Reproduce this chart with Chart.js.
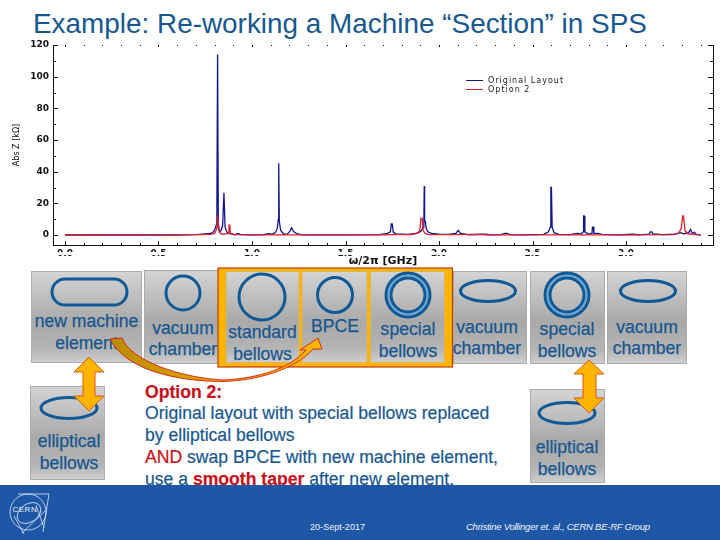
<!DOCTYPE html>
<html>
<head>
<meta charset="utf-8">
<script src="https://cdn.jsdelivr.net/npm/chart.js@4"></script>
<style>
  html, body { margin: 0; padding: 0; background: #fff; }
  #slide { position: relative; width: 720px; height: 540px; overflow: hidden; }
  #art { position: absolute; left: 0; top: 0; }
  #plot { position: absolute; left: 0; top: 40px; filter: blur(0.3px); }
  text { font-family: "Liberation Sans", Arial, sans-serif; }
  .lbl { font-size: 17.6px; fill: #17578f; stroke: #17578f; stroke-width: 0.25; text-anchor: middle; }
  .opt { font-size: 17.6px; fill: #17578f; stroke: #17578f; stroke-width: 0.2; }
  .opt .red, .opt.red { fill: #c8101a; stroke: #c8101a; }
  .pipe { fill: none; stroke: #0f5a96; stroke-width: 3; }
  .gap { fill: none; stroke: #6fa8d6; stroke-width: 2; }
  .arrow { fill: #ffb400; stroke: #dc5a10; stroke-width: 1; }
  .logo { fill: none; stroke: #dfe8f5; stroke-width: 0.8; }
</style>
</head>
<body>
<div id="slide">
<svg id="art" width="720" height="540" viewBox="0 0 720 540">
  <defs>
    <linearGradient id="metal" x1="0" y1="0" x2="0" y2="1">
      <stop offset="0" stop-color="#d4d4d4"/>
      <stop offset="0.55" stop-color="#a9a9a9"/>
      <stop offset="0.85" stop-color="#b4b4b4"/>
      <stop offset="1" stop-color="#cfcfcf"/>
    </linearGradient>
    <linearGradient id="sweep" x1="0" y1="0" x2="1" y2="0">
      <stop offset="0" stop-color="#b98a00"/>
      <stop offset="0.6" stop-color="#f0a800"/>
      <stop offset="1" stop-color="#ffb400"/>
    </linearGradient>
  </defs>

  <text x="33" y="33" font-size="27.9" fill="#17578f">Example: Re-working a Machine “Section” in SPS</text>

  <g fill="url(#metal)" stroke="#ababab" stroke-width="1">
    <rect x="31.5" y="271.5" width="110" height="91"/>
    <rect x="144.5" y="270.5" width="76" height="93"/>
    <rect x="453.5" y="271.5" width="73" height="92"/>
    <rect x="530.5" y="271.5" width="74" height="92"/>
    <rect x="607.5" y="271.5" width="79" height="92"/>
    <rect x="30.5" y="386.5" width="74" height="93"/>
    <rect x="530.5" y="389.5" width="74" height="93"/>
  </g>
  <rect x="218" y="268" width="234.5" height="99" fill="#ffb400" stroke="#c23a10" stroke-width="1.2"/>
  <g fill="url(#metal)" stroke="#dcb45a" stroke-width="1">
    <rect x="226" y="271.5" width="73" height="91"/>
    <rect x="302" y="271.5" width="65" height="91"/>
    <rect x="370.5" y="271.5" width="74" height="91"/>
  </g>

  <rect class="pipe" x="52" y="279" width="75" height="26" rx="13"/>
  <circle class="pipe" cx="183" cy="293" r="17"/>
  <circle class="pipe" cx="262" cy="297" r="23"/>
  <circle class="pipe" cx="335" cy="295" r="17.5"/>
  <circle class="gap" cx="408" cy="295" r="19.5"/>
  <circle class="pipe" cx="408" cy="295" r="22"/>
  <circle class="pipe" cx="408" cy="295" r="17"/>
  <ellipse class="pipe" cx="488" cy="291" rx="27.5" ry="10.5"/>
  <circle class="gap" cx="567" cy="295" r="19.5"/>
  <circle class="pipe" cx="567" cy="295" r="22"/>
  <circle class="pipe" cx="567" cy="295" r="17"/>
  <ellipse class="pipe" cx="648" cy="291" rx="27.5" ry="10.5"/>
  <ellipse class="pipe" cx="69" cy="408" rx="28" ry="10.5"/>
  <ellipse class="pipe" cx="567" cy="413" rx="28" ry="10.5"/>

  <text class="lbl" x="86.5" y="327">new machine</text>
  <text class="lbl" x="86.5" y="349">element</text>
  <text class="lbl" x="183" y="334">vacuum</text>
  <text class="lbl" x="183" y="355">chamber</text>
  <text class="lbl" x="262.5" y="338">standard</text>
  <text class="lbl" x="262.5" y="360">bellows</text>
  <text class="lbl" x="335" y="332">BPCE</text>
  <text class="lbl" x="408" y="335">special</text>
  <text class="lbl" x="408" y="357">bellows</text>
  <text class="lbl" x="487" y="333">vacuum</text>
  <text class="lbl" x="487" y="354">chamber</text>
  <text class="lbl" x="567" y="335">special</text>
  <text class="lbl" x="567" y="357">bellows</text>
  <text class="lbl" x="647" y="333">vacuum</text>
  <text class="lbl" x="647" y="354">chamber</text>
  <text class="lbl" x="69" y="447">elliptical</text>
  <text class="lbl" x="69" y="469">bellows</text>
  <text class="lbl" x="567" y="453">elliptical</text>
  <text class="lbl" x="567" y="475">bellows</text>

  <path d="M110,339 L122,338 C130,360 180,378 224,380 C260,378 290,368 306,350 L300,350 L318,338 L322,349 L313,349 C295,370 255,381 222,381.5 C170,381 125,368 110,339 Z"
        fill="url(#sweep)" stroke="#d0200f" stroke-width="0.9"/>
  <polygon class="arrow" points="89,357 104,372 95,372 95,396 104,396 89,411 74,396 83,396 83,372 74,372"/>
  <polygon class="arrow" points="589,360 604,374 596,374 596,398 604,398 589,413 574,398 583,398 583,374 574,374"/>

  <text class="opt red" x="145" y="398" font-weight="bold">Option 2:</text>
  <text class="opt" x="145" y="419">Original layout with special bellows replaced</text>
  <text class="opt" x="145" y="441">by elliptical bellows</text>
  <text class="opt" x="145" y="463"><tspan class="red">AND</tspan> swap BPCE with new machine element,</text>
  <text class="opt" x="145" y="485">use a <tspan class="red" font-weight="bold">smooth taper</tspan> after new element.</text>

  <rect x="0" y="485" width="720" height="55" fill="#1f57a7"/>
  <circle class="logo" cx="28" cy="512" r="18"/>
  <ellipse class="logo" cx="29" cy="513" rx="13" ry="9" transform="rotate(-35 29 513)"/>
  <path class="logo" d="M18,494 L49,494 L43,532 M36,505 L44,528 M14,516 L24,534 M22,533 L45,511"/>
  <text x="12.5" y="512" font-size="8" letter-spacing="0.5" fill="#eef3fa">CERN</text>
  <text x="310" y="530" font-size="9" textLength="55" fill="#f2f5fa">20-Sept-2017</text>
  <text x="466" y="530" font-size="9.5" font-style="italic" textLength="184" fill="#f2f5fa">Christine Vollinger et. al., CERN BE-RF Group</text>
</svg>
<canvas id="plot" width="720" height="228"></canvas>
</div>

<script>
'use strict'

// values, x in GHz, y in kOhm
var originalFreq = [0.00, 0.60, 0.70, 0.75, 0.78, 0.795, 0.805, 0.812, 0.816, 0.82, 0.826, 0.835, 0.843, 0.85, 0.856, 0.865, 0.875, 0.89, 0.91, 0.925, 0.94,
  1.00, 1.06, 1.09, 1.11, 1.125, 1.135, 1.141, 1.143, 1.146, 1.153, 1.17, 1.19, 1.203, 1.212, 1.222, 1.24, 1.26, 1.30, 1.50,
  1.68, 1.72, 1.74, 1.745, 1.75, 1.755, 1.77, 1.80, 1.83, 1.87, 1.89, 1.905, 1.915, 1.919, 1.921, 1.923, 1.927, 1.932, 1.94, 1.96,
  2.00, 2.05, 2.09, 2.103, 2.115, 2.14, 2.16, 2.25, 2.28, 2.33, 2.358, 2.38, 2.45, 2.56, 2.585, 2.595, 2.598, 2.601, 2.605, 2.615, 2.64,
  2.70, 2.74, 2.76, 2.77, 2.773, 2.776, 2.78, 2.80, 2.818, 2.82, 2.825, 2.828, 2.85, 2.87, 2.95,
  3.04, 3.07, 3.125, 3.13, 3.138, 3.145, 3.17, 3.19, 3.26, 3.29, 3.31, 3.335, 3.345, 3.352, 3.36, 3.365, 3.375, 3.40]
var originalZ = [0, 0, 0.2, 0.7, 1, 2.2, 4.5, 8, 114, 7, 2, 3, 6, 26.7, 5, 2, 1, 0.7, 0.3, 1, 0.2,
  0.1, 0.3, 0.9, 0.5, 1.5, 4, 10, 45.3, 9, 3, 0.5, 0.7, 2.5, 4.6, 2.2, 0.8, 0.3, 0.1, 0.1,
  0.2, 0.8, 2, 7, 7, 2, 0.5, 0.5, 0.4, 0.8, 1.5, 2.5, 5, 8, 31, 9, 8.5, 4, 2, 1,
  0.6, 0.4, 1, 3, 1, 0.5, 0.1, 0.5, 0.1, 0.3, 1.2, 0.3, 0.1, 0.4, 2, 5, 30, 30, 5, 1.5, 0.4,
  0.2, 1, 0.5, 2, 12, 12, 2, 0.5, 1, 5, 5, 1, 1, 0.4, 0.1,
  0.5, 0.1, 0.5, 2, 2, 0.5, 0.6, 0.2, 0.5, 1.5, 0.8, 1.5, 3.5, 1.5, 1.2, 1.8, 0.5, 0]

var option2Freq = [0.00, 0.60, 0.72, 0.78, 0.80, 0.812, 0.816, 0.82, 0.83, 0.85, 0.872, 0.877, 0.881, 0.885, 0.90,
  1.00, 1.70, 1.75, 1.85, 1.89, 1.898, 1.903, 1.91, 1.915, 1.925, 1.95,
  2.10, 2.23, 2.26, 2.60, 3.00, 3.25, 3.28, 3.295, 3.303, 3.307, 3.315, 3.33, 3.40]
var option2Z = [0, 0.2, 0.2, 0.4, 1, 4, 12, 4, 1, 0.5, 1, 6.3, 6.3, 1, 0.3,
  0.1, 0.1, 0.3, 0.3, 1.5, 3.5, 10.5, 10.5, 3, 1, 0.3,
  0.2, 0.6, 0.1, 0.1, 0.1, 0.3, 1, 4, 12, 12, 3, 0.8, 0]

var seriesNames = ['Original Layout', 'Option 2']
var xLabelled = [0, 0.5, 1, 1.5, 2, 2.5, 3]
var yLabelled = [0, 20, 40, 60, 80, 100, 120]
var xMinor = [0.1, 0.2, 0.3, 0.4, 0.6, 0.7, 0.8, 0.9, 1.1, 1.2, 1.3, 1.4, 1.6, 1.7, 1.8, 1.9, 2.1, 2.2, 2.3, 2.4, 2.6, 2.7, 2.8, 2.9, 3.1, 3.2, 3.3, 3.4]
var yMinor = [10, 30, 50, 70, 90, 110]

var blue = '#14148f'
var red = '#d8222c'

function pairs(xs, ys) {
  return xs.map(function (x, i) { return { x: x, y: ys[i] } })
}

// mathematica style frame: ticks point inward, legend sits inside the plot
var frameTicks = {
  id: 'frameTicks',
  afterDraw: function (chart) {
    var c = chart.ctx
    var a = chart.chartArea
    var xs = chart.scales.x
    var ys = chart.scales.y
    c.save()
    c.strokeStyle = '#111'
    c.lineWidth = 1
    c.beginPath()
    c.moveTo(a.right + 0.5, a.top)
    c.lineTo(a.right + 0.5, a.bottom)
    yLabelled.concat(yMinor).forEach(function (v) {
      var len = yLabelled.indexOf(v) >= 0 ? 5 : 3
      var py = Math.round(ys.getPixelForValue(v)) + 0.5
      c.moveTo(a.left, py)
      c.lineTo(a.left + len, py)
      c.moveTo(a.right, py)
      c.lineTo(a.right - len, py)
    })
    xLabelled.concat(xMinor).forEach(function (v) {
      var len = xLabelled.indexOf(v) >= 0 ? 4 : 2
      var px = Math.round(xs.getPixelForValue(v)) + 0.5
      c.moveTo(px, a.bottom)
      c.lineTo(px, a.bottom - len)
      c.moveTo(px, a.top)
      c.lineTo(px, a.top + (len > 2 ? 2 : 1))
    })
    c.stroke()

    // the picture cuts the x tick labels in half just under the axis
    c.clearRect(0, a.bottom + 7, chart.width, 3)

    c.font = '8px "DejaVu Sans"'
    c.letterSpacing = '1px'
    c.textBaseline = 'middle'
    chart.data.datasets.forEach(function (ds, i) {
      var py = a.top + 35.5 + i * 9
      c.strokeStyle = ds.borderColor
      c.beginPath()
      c.moveTo(a.left + 413, py)
      c.lineTo(a.left + 430, py)
      c.stroke()
      c.fillStyle = '#222'
      c.fillText(ds.label, a.left + 435, py)
    })
    c.restore()
  }
}

new Chart(document.getElementById('plot'), {
  type: 'scatter',
  data: {
    datasets: [
      { label: seriesNames[0], data: pairs(originalFreq, originalZ), showLine: true, borderColor: blue, borderWidth: 1.3, pointRadius: 0, order: 2 },
      { label: seriesNames[1], data: pairs(option2Freq, option2Z), showLine: true, borderColor: red, borderWidth: 1.3, pointRadius: 0, order: 1 }
    ]
  },
  plugins: [frameTicks],
  options: {
    responsive: false,
    animation: false,
    layout: { padding: { left: 0, right: 7, top: 5, bottom: 0 } },
    plugins: { legend: { display: false }, tooltip: { enabled: false } },
    scales: {
      x: {
        min: -0.064,
        max: 3.465,
        grid: { display: false, drawTicks: false },
        border: { color: '#111', width: 1 },
        afterBuildTicks: function (s) { s.ticks = xLabelled.map(function (v) { return { value: v } }) },
        afterFit: function (s) { s.height = 23 },
        ticks: { color: '#111', font: { family: 'DejaVu Sans', size: 9, weight: 'bold' }, padding: 3, maxRotation: 0, callback: function (v) { return v.toFixed(1) } },
        title: { display: true, text: 'ω/2π [GHz]', color: '#111', font: { family: 'DejaVu Sans', size: 11, weight: 'bold' }, padding: 0 }
      },
      y: {
        min: -6.3,
        max: 120,
        grid: { display: false, drawTicks: false },
        border: { color: '#111', width: 1 },
        afterBuildTicks: function (s) { s.ticks = yLabelled.map(function (v) { return { value: v } }) },
        afterFit: function (s) { s.width = 53; s.paddingTop = 0; s.paddingBottom = 0 },
        ticks: { color: '#111', font: { family: 'DejaVu Sans', size: 9, weight: 'bold' }, padding: 4 },
        title: { display: true, text: 'Abs Z [kΩ]', color: '#111', font: { family: 'DejaVu Sans', size: 8 }, padding: { top: 12, bottom: 0 } }
      }
    }
  }
})
</script>
</body>
</html>
